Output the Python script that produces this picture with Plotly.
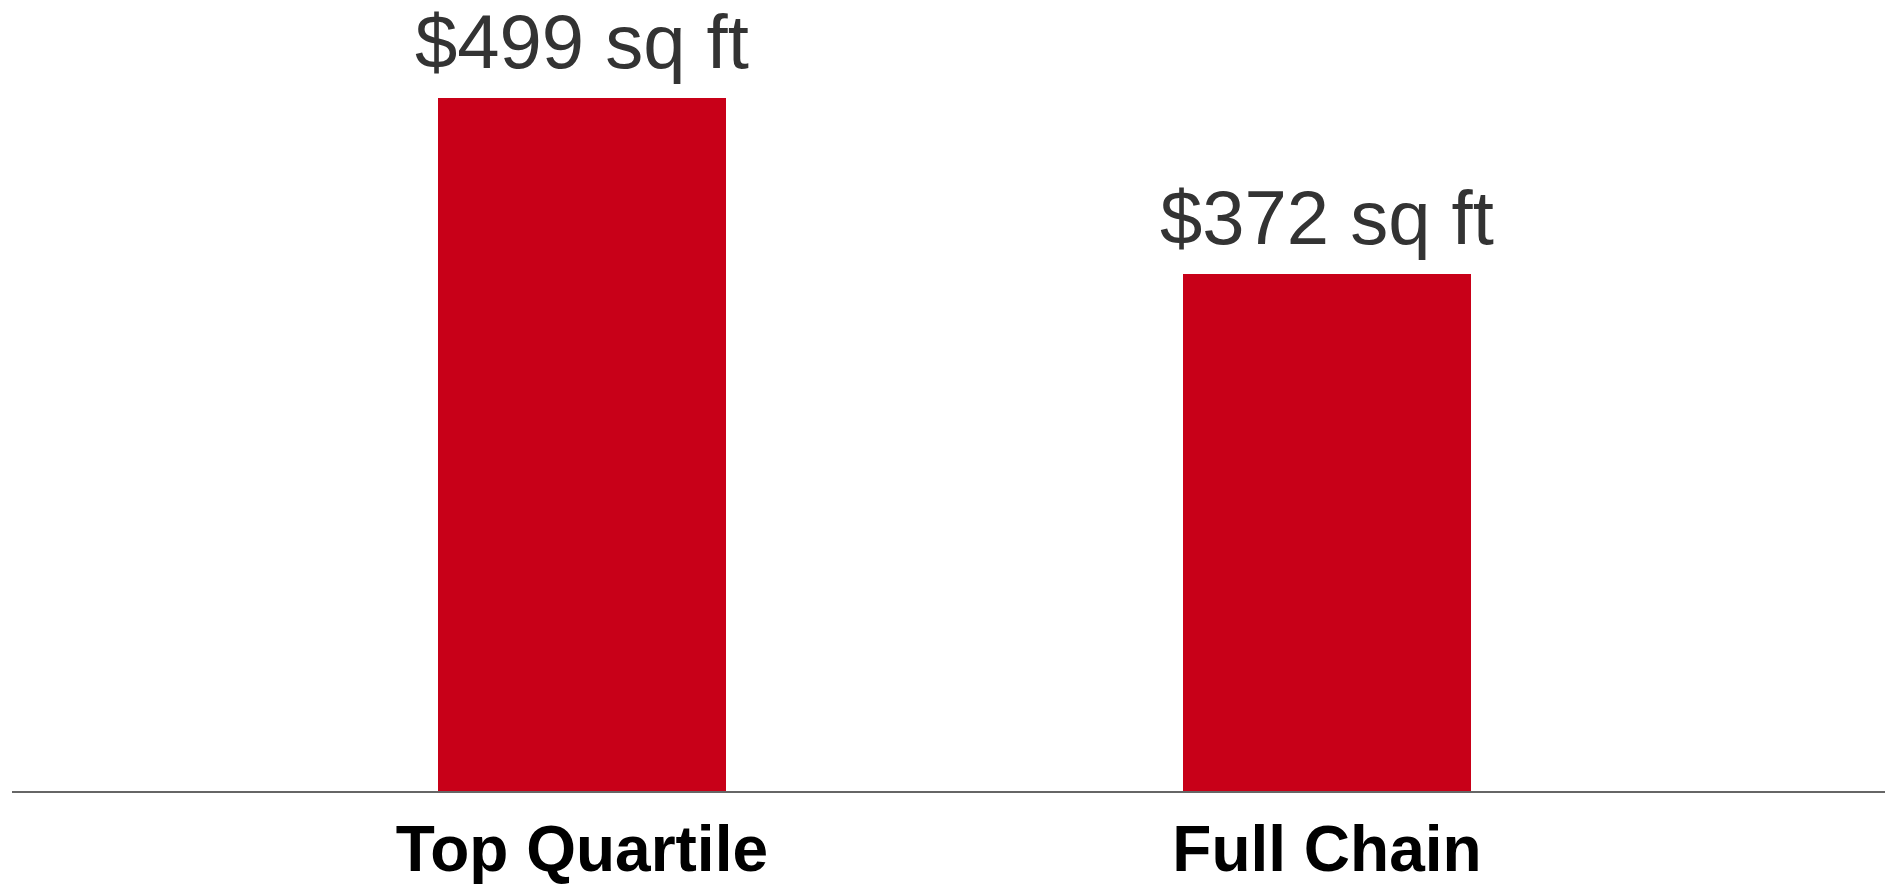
import plotly.graph_objects as go

# Price per square foot by store group
categories = ["Top Quartile", "Full Chain"]
values = [499, 372]
value_labels = [f"${v} sq ft" for v in values]

bar_color = "#C80018"

fig = go.Figure(
    go.Bar(
        x=categories,
        y=values,
        width=0.386,
        marker=dict(color=bar_color, line=dict(width=0)),
        hoverinfo="skip",
    )
)

# Value labels above each bar
for cat, val, lab in zip(categories, values, value_labels):
    fig.add_annotation(
        x=cat, y=val, text=lab, showarrow=False,
        xanchor="center", yanchor="bottom", yshift=12,
        font=dict(family="Liberation Sans, Arial, sans-serif", size=76, color="#333333"),
    )

fig.update_layout(
    width=1885, height=886,
    margin=dict(l=12, r=0, t=0, b=95),
    paper_bgcolor="white", plot_bgcolor="white",
    showlegend=False,
    bargap=0,
    xaxis=dict(
        type="category",
        range=[-0.765, 1.749],
        automargin=False,
        showline=True, linecolor="#666666", linewidth=2,
        showgrid=False, zeroline=False, ticks="",
        tickfont=dict(family="Liberation Sans, Arial, sans-serif", size=64, color="#000000", weight="bold"),
        ticklabelstandoff=1,
    ),
    yaxis=dict(
        range=[0, 569.3],
        visible=False, showgrid=False, zeroline=False,
    ),
)

fig.write_html("out.html")
